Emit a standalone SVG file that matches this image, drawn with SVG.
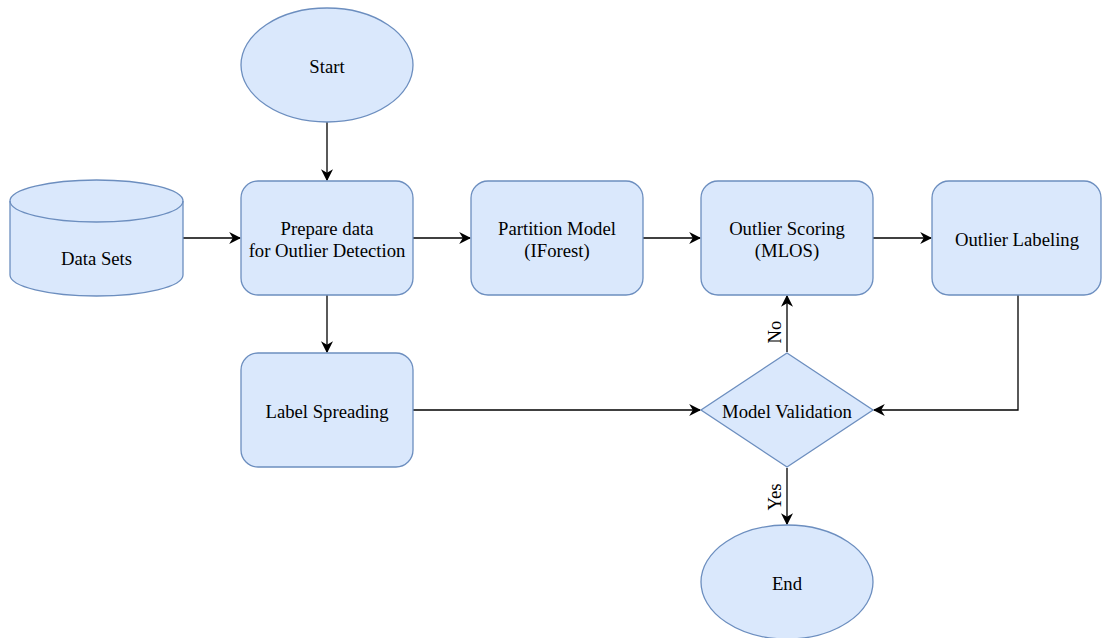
<svg xmlns="http://www.w3.org/2000/svg" width="1102" height="638" viewBox="0 0 1102 638">
  <style>
    .shape { fill: #dae8fc; stroke: #6c8ebf; stroke-width: 1.3; }
    .lbl { font-family: "Liberation Serif", "Times New Roman", serif; font-size: 18.7px; fill: #000; text-anchor: middle; dominant-baseline: central; }
    .edge { fill: none; stroke: #000; stroke-width: 1.3; }
  </style>
  <defs>
    <marker id="arrow" viewBox="0 0 10 10" refX="9" refY="5" markerWidth="12" markerHeight="12" markerUnits="userSpaceOnUse" orient="auto">
      <path d="M0,0 L10,5 L0,10 L3,5 Z" fill="#000"/>
    </marker>
  </defs>
  <rect width="1102" height="638" fill="#fff"/>

  <g id="connectors">
    <path class="edge" d="M327,122 V180" marker-end="url(#arrow)"/>
    <path class="edge" d="M183,238 H240" marker-end="url(#arrow)"/>
    <path class="edge" d="M413,238 H470" marker-end="url(#arrow)"/>
    <path class="edge" d="M643,238 H700" marker-end="url(#arrow)"/>
    <path class="edge" d="M873,238 H931" marker-end="url(#arrow)"/>
    <path class="edge" d="M327,295 V352" marker-end="url(#arrow)"/>
    <path class="edge" d="M413,410 H700" marker-end="url(#arrow)"/>
    <path class="edge" d="M1018,295 V410 H874" marker-end="url(#arrow)"/>
    <path class="edge" d="M787,352 V296" marker-end="url(#arrow)"/>
    <path class="edge" d="M787,468 V524" marker-end="url(#arrow)"/>
    <text class="lbl" transform="translate(774,332) rotate(-90)">No</text>
    <text class="lbl" transform="translate(774,497) rotate(-90)">Yes</text>
  </g>

  <g id="start">
    <ellipse class="shape" cx="327" cy="65" rx="86" ry="57"/>
    <text class="lbl" x="327" y="66">Start</text>
  </g>

  <g id="data-sets">
    <path class="shape" d="M10,201 A86.5,21 0 0 1 183,201 V275 A86.5,21 0 0 1 10,275 Z"/>
    <path class="shape" style="fill:none" d="M10,201 A86.5,21 0 0 0 183,201"/>
    <text class="lbl" x="96.5" y="258">Data Sets</text>
  </g>

  <g id="prepare">
    <rect class="shape" x="241" y="181" width="172" height="114" rx="17"/>
    <text class="lbl" x="327" y="228">Prepare data</text>
    <text class="lbl" x="327" y="250">for Outlier Detection</text>
  </g>

  <g id="partition">
    <rect class="shape" x="471" y="181" width="172" height="114" rx="17"/>
    <text class="lbl" x="557" y="228">Partition Model</text>
    <text class="lbl" x="557" y="250">(IForest)</text>
  </g>

  <g id="scoring">
    <rect class="shape" x="701" y="181" width="172" height="114" rx="17"/>
    <text class="lbl" x="787" y="228">Outlier Scoring</text>
    <text class="lbl" x="787" y="250">(MLOS)</text>
  </g>

  <g id="labeling">
    <rect class="shape" x="932" y="181" width="169" height="114" rx="17"/>
    <text class="lbl" x="1017" y="239">Outlier Labeling</text>
  </g>

  <g id="label-spreading">
    <rect class="shape" x="241" y="353" width="172" height="114" rx="17"/>
    <text class="lbl" x="327" y="411">Label Spreading</text>
  </g>

  <g id="validation">
    <path class="shape" d="M787,353 L873,410 L787,467 L701,410 Z"/>
    <text class="lbl" x="787" y="411">Model Validation</text>
  </g>

  <g id="end">
    <ellipse class="shape" cx="787" cy="582" rx="86" ry="57"/>
    <text class="lbl" x="787" y="583">End</text>
  </g>
</svg>
